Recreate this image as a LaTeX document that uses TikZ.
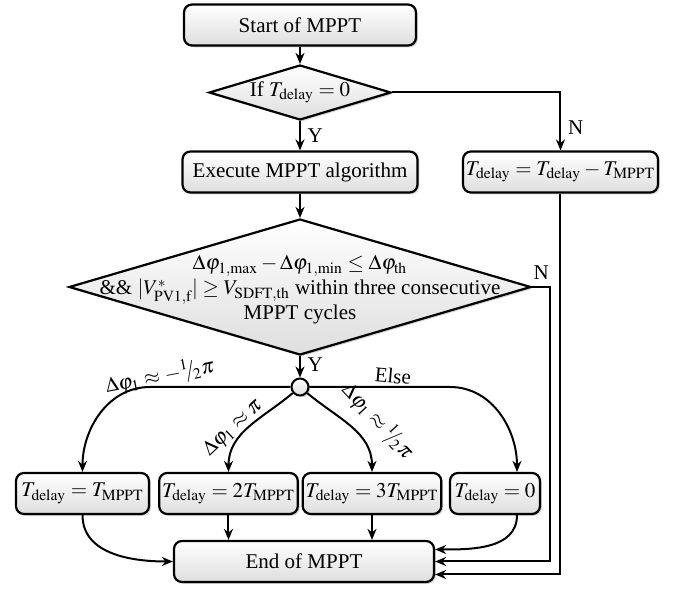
\documentclass[tikz,border=0pt]{standalone}
\usepackage{mathptmx}
\usepackage[no-math]{fontspec}
\setmainfont{Liberation Serif}
\usetikzlibrary{arrows.meta,shapes.geometric,shadows}
\newcommand{\hlfsl}{{}^{1}\!\!/\!_{2}}

\begin{document}
\begin{tikzpicture}[x=0.5pt,y=-0.5pt,
        font=\fontsize{10.5}{12.5}\selectfont,
        shade/.style={top color=white,bottom color=black!13,drop shadow={shadow xshift=0.9pt,shadow yshift=-0.9pt,opacity=0.35}},
        proc/.style={draw,shade,line width=1.1pt,rounded corners=4pt,inner sep=1.5pt,minimum height=20.5pt},
        decide/.style={draw,shade,diamond,line width=1.1pt,inner sep=0pt},
        arr/.style={-{Stealth[length=5.5pt,width=4.5pt]},line width=1pt}]
        \useasboundingbox (0,0) rectangle (677,589);
        \node[proc,minimum width=116pt] (start) at (300,25) {Start of MPPT};
        \node[decide,aspect=3.3,minimum width=91pt,minimum height=27.5pt] (ifdelay) at (300,92.5) {If $T_{\mathrm{delay}}=0$};
        \node[proc,minimum width=117.5pt] (exec) at (300,172) {Execute MPPT algorithm};
        \node[proc,minimum width=97.5pt] (dec) at (560.5,172) {$T_{\mathrm{delay}}=T_{\mathrm{delay}}-T_{\mathrm{MPPT}}$};
        \node[decide,minimum width=231pt,minimum height=68pt] (check) at (300,287) {};
        \node[align=center] (checktxt) at (300,290) {$\Delta\varphi_{1,\max}-\Delta\varphi_{1,\min}\leq\Delta\varphi_{\mathrm{th}}$\\
                \&\& $|V^{*}_{\mathrm{PV1,f}}|\geq V_{\mathrm{SDFT,th}}$ within three consecutive\\MPPT cycles};
        \node[circle,draw,shade,line width=1pt,minimum size=8.5pt,inner sep=0pt] (junc) at (300,387) {};
        \node[proc,minimum width=66.5pt] (one) at (82.5,493.5) {$T_{\mathrm{delay}}=T_{\mathrm{MPPT}}$};
        \node[proc,minimum width=66.5pt] (two) at (228.5,493.5) {$T_{\mathrm{delay}}=2T_{\mathrm{MPPT}}$};
        \node[proc,minimum width=67pt] (three) at (372,493.5) {$T_{\mathrm{delay}}=3T_{\mathrm{MPPT}}$};
        \node[proc,minimum width=45pt] (four) at (495,493.5) {$T_{\mathrm{delay}}=0$};
        \node[proc,minimum width=130pt] (end) at (304,561.5) {End of MPPT};

        \draw[arr] (start) -- (ifdelay);
        \draw[arr] (ifdelay) -- node[right] {Y} (exec);
        \draw[arr] (ifdelay.east) -| node[pos=0.8,right] {N} (dec);
        \draw[arr] (exec) -- (check);
        \draw[arr] (check) -- node[right,pos=0.4] {Y} (junc);
        \draw[arr] (check.east) -- ++(18,0) node[midway,above] {N} |- (end.east);
        \draw[arr] (dec) |- ([yshift=-6.5pt]end.east);

        \draw[arr] (junc) -- ++(-150,0) to[out=180,in=90] (one);
        \draw[arr] (junc) to[out=-140,in=90] (two);
        \draw[arr] (junc) to[out=-40,in=90] (three);
        \draw[arr] (junc) -- ++(150,0) to[out=0,in=90] ([xshift=11pt]four.north);
        \node[rotate=11] (lblone) at (160,376) {$\Delta\varphi_1\approx-\hlfsl\pi$};
        \node[rotate=43] (lbltwo) at (233,428) {$\Delta\varphi_1\approx\pi$};
        \node[rotate=-47] (lblthree) at (378,421) {$\Delta\varphi_1\approx\hlfsl\pi$};
        \node[rotate=-5] (lblfour) at (393,376) {Else};

        \draw[arr] (one) to[out=-90,in=180] (end.west);
        \draw[arr] (two) -- (two |- end.north);
        \draw[arr] (three) -- (three |- end.north);
        \draw[arr] ([xshift=11pt]four.south) to[out=-90,in=0] ([yshift=6pt]end.east);
    \end{tikzpicture}
\end{document}
